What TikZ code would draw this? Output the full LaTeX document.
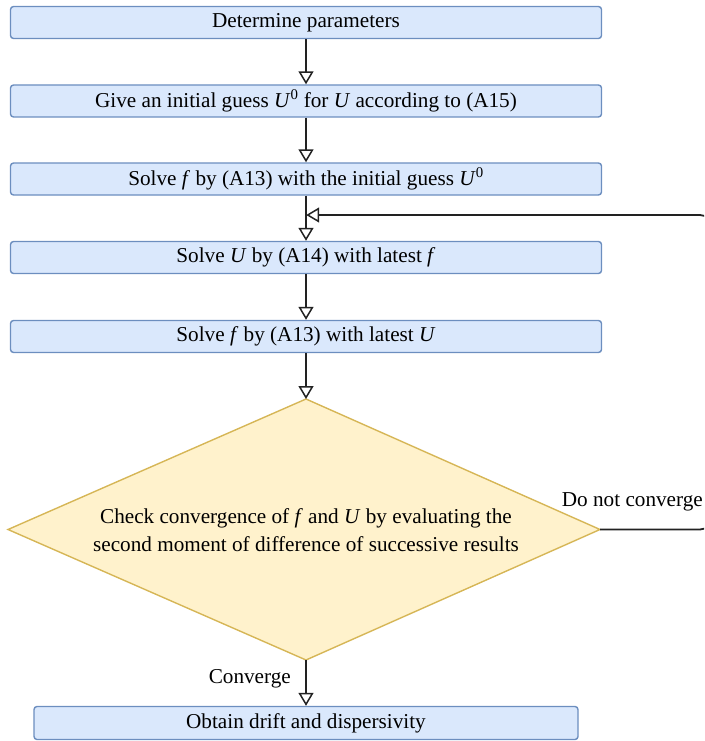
\documentclass[tikz,border=0pt]{standalone}
\usepackage{fontspec}
\setmainfont{Liberation Serif}
\usetikzlibrary{arrows.meta,shapes.geometric}
\definecolor{boxfill}{HTML}{DAE8FC}
\definecolor{boxdraw}{HTML}{6C8EBF}
\definecolor{decfill}{HTML}{FFF2CC}
\definecolor{decdraw}{HTML}{D6B656}
\definecolor{linec}{HTML}{222222}
\newcommand{\vU}{\textit{U}}
\newcommand{\vf}{\textit{f}}
\begin{document}
\begin{tikzpicture}[x=1pt,y=-1pt,
  font=\fontsize{21.2}{28}\selectfont,
  stepbox/.style={draw=boxdraw,fill=boxfill,line width=1.4pt,rounded corners=3pt,
    minimum width=591pt,minimum height=32pt,inner sep=0pt,anchor=center},
  conn/.style={draw=linec,line width=1.8pt,-{Triangle[open,length=13pt,width=15pt,fill=white,line width=1.5pt]}},
]
\useasboundingbox (0,0) rectangle (704,741);
\node[stepbox] (b1) at (306,22.5) {Determine parameters};
\node[stepbox] (b2) at (306,101) {Give an initial guess \vU\textsuperscript{0} for \vU\ according to (A15)};
\node[stepbox] (b3) at (306,179) {Solve \vf\ by (A13) with the initial guess \vU\textsuperscript{0}};
\node[stepbox] (b4) at (306,257.5) {Solve \vU\ by (A14) with latest \vf};
\node[stepbox] (b5) at (306,336.5) {Solve \vf\ by (A13) with latest \vU};
\node[stepbox,minimum width=544pt,minimum height=33pt] (b6) at (306,723) {Obtain drift and dispersivity};
\path[draw=decdraw,fill=decfill,line width=1.4pt]
  (306,399) coordinate (dt) -- (600,529.5) coordinate (dr) -- (306,660) coordinate (db) -- (8,529.5) coordinate (dl) -- cycle;
\node[align=center,inner sep=0pt] (dtext) at (306,530) {Check convergence of \vf\ and \vU\ by evaluating the\\second moment of difference of successive results};
\draw[conn] (b1.south) -- (b2.north);
\draw[conn] (b2.south) -- (b3.north);
\draw[conn] (b3.south) -- (b4.north);
\draw[conn] (b4.south) -- (b5.north);
\draw[conn] (b5.south) -- (dt);
\draw[conn] (db) -- (b6.north);
\node[anchor=east,inner sep=0pt] (lc) at (291,679) {Converge};
\coordinate (m) at (306.2,215);
\begin{scope}
\clip (0,0) rectangle (704,741);
\draw[conn,rounded corners=12pt] (dr) -- (712,529.5) -- (712,215) -- (m);
\end{scope}
\node[anchor=east,inner sep=0pt] (lnc) at (703,502) {Do not converge};
\end{tikzpicture}
\end{document}
